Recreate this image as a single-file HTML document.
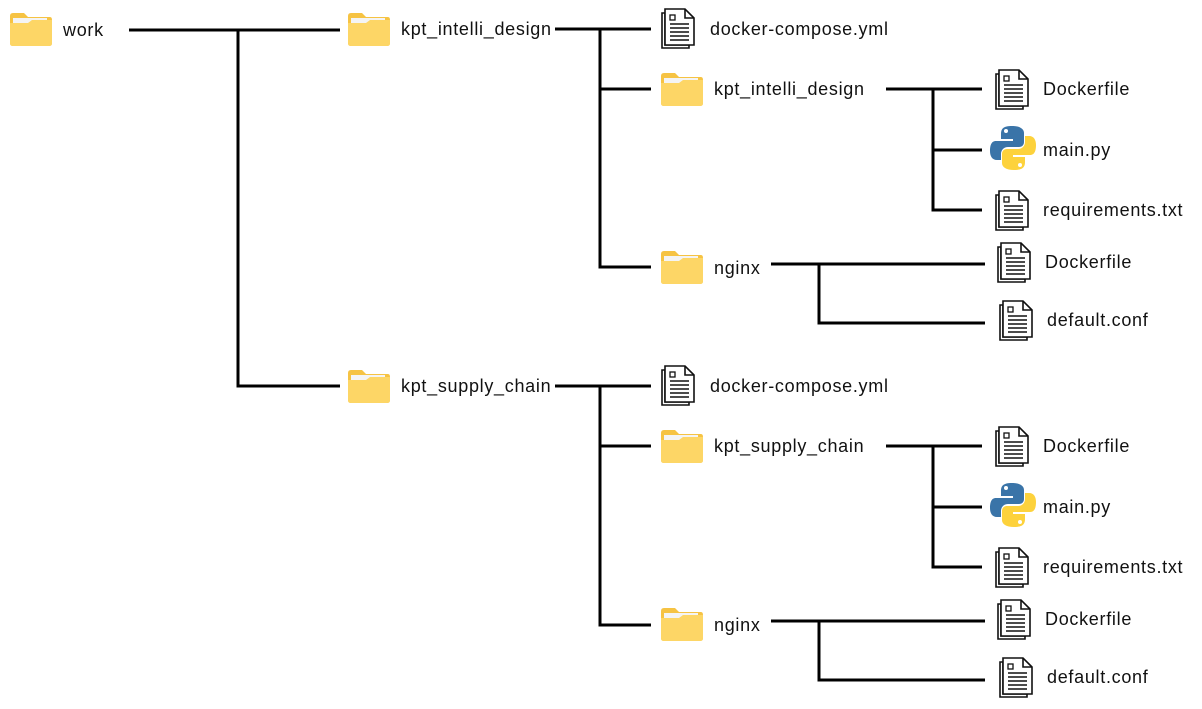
<!DOCTYPE html>
<html><head><meta charset="utf-8"><style>
html,body{margin:0;padding:0;background:#fff;}
svg text{font-family:"Liberation Sans","Noto Sans CJK KR",sans-serif;font-size:18px;letter-spacing:0.7px;fill:#111;dominant-baseline:central;}
</style></head><body>
<svg width="1202" height="704" viewBox="0 0 1202 704" xmlns="http://www.w3.org/2000/svg">
<defs>
<g id="fold">
<path d="M1,4 Q1,1 4,1 H15 L19,5 H41 Q43,5 43,8 V31 Q43,34 40,34 H4 Q1,34 1,31 Z" fill="#f6c343"/>
<rect x="4" y="6" width="34" height="10" fill="#f4f4f4"/>
<path d="M1,11 H19 L23,8 H43 V31 Q43,34 40,34 H4 Q1,34 1,31 Z" fill="#fdd666"/>
</g>
<g id="doc" fill="#fff" stroke="#111" stroke-width="1.6">
<path d="M1,5 H4 V37 H28 V40 H1 Z"/>
<path d="M4,1 H24 L33,10 V37 H4 Z"/>
<path d="M24,1 V10 H33" fill="none"/>
<rect x="9" y="7" width="5" height="5" fill="none" stroke-width="1.3"/>
<path d="M9,16 H28 M9,20 H28 M9,24 H28 M9,28 H28 M9,32 H28" stroke-width="1.5"/>
</g>
<g id="py">
<path d="M22,1 C13,1 11,4 11,9 V14 H23 V16 H6 C1,16 0,21 0,26 C0,31 2,35 7,35 H11 V29 C11,25 14,22 18,22 H29 C32,22 34,20 34,17 V8 C34,4 30,1 22,1 Z" fill="#3a74a8"/>
<circle cx="16" cy="6" r="2" fill="#fff"/>
<path d="M24,45 C33,45 35,42 35,37 V32 H23 V30 H40 C45,30 46,25 46,20 C46,15 44,11 39,11 H35 V17 C35,21 32,24 28,24 H17 C14,24 12,26 12,29 V38 C12,42 16,45 24,45 Z" fill="#fdd23c"/>
<circle cx="30" cy="40" r="2" fill="#fff"/>
</g>
</defs>
<g stroke="#000" stroke-width="3" fill="none">
<path d="M129,30 H340 M238,30 V386 H340"/>
<path d="M555,29 H651 M600,29 V267 H651 M600,89 H651"/>
<path d="M886,89 H982 M933,89 V210 H982 M933,150 H982"/>
<path d="M771,264 H985 M819,264 V323 H985"/>
<path d="M555,386 H651 M600,386 V625 H651 M600,446 H651"/>
<path d="M886,446 H982 M933,446 V567 H982 M933,507 H982"/>
<path d="M771,621 H985 M819,621 V680 H985"/>
</g>
<use href="#fold" x="9" y="12"/><text x="63" y="30">work</text>
<g>
<use href="#fold" x="347" y="12"/><text x="401" y="29">kpt_intelli_design</text>
<use href="#doc" x="661" y="8"/><text x="710" y="29">docker-compose.yml</text>
<use href="#fold" x="660" y="72"/><text x="714" y="89">kpt_intelli_design</text>
<use href="#doc" x="995" y="69"/><text x="1043" y="89">Dockerfile</text>
<use href="#py" x="990" y="125"/><text x="1043" y="150">main.py</text>
<use href="#doc" x="995" y="190"/><text x="1043" y="210">requirements.txt</text>
<use href="#fold" x="660" y="250"/><text x="714" y="268">nginx</text>
<use href="#doc" x="997" y="242"/><text x="1045" y="262">Dockerfile</text>
<use href="#doc" x="999" y="300"/><text x="1047" y="320">default.conf</text>
</g>
<g>
<use href="#fold" x="347" y="369"/><text x="401" y="386">kpt_supply_chain</text>
<use href="#doc" x="661" y="365"/><text x="710" y="386">docker-compose.yml</text>
<use href="#fold" x="660" y="429"/><text x="714" y="446">kpt_supply_chain</text>
<use href="#doc" x="995" y="426"/><text x="1043" y="446">Dockerfile</text>
<use href="#py" x="990" y="482"/><text x="1043" y="507">main.py</text>
<use href="#doc" x="995" y="547"/><text x="1043" y="567">requirements.txt</text>
<use href="#fold" x="660" y="607"/><text x="714" y="625">nginx</text>
<use href="#doc" x="997" y="599"/><text x="1045" y="619">Dockerfile</text>
<use href="#doc" x="999" y="657"/><text x="1047" y="677">default.conf</text>
</g>
</svg>
</body></html>
